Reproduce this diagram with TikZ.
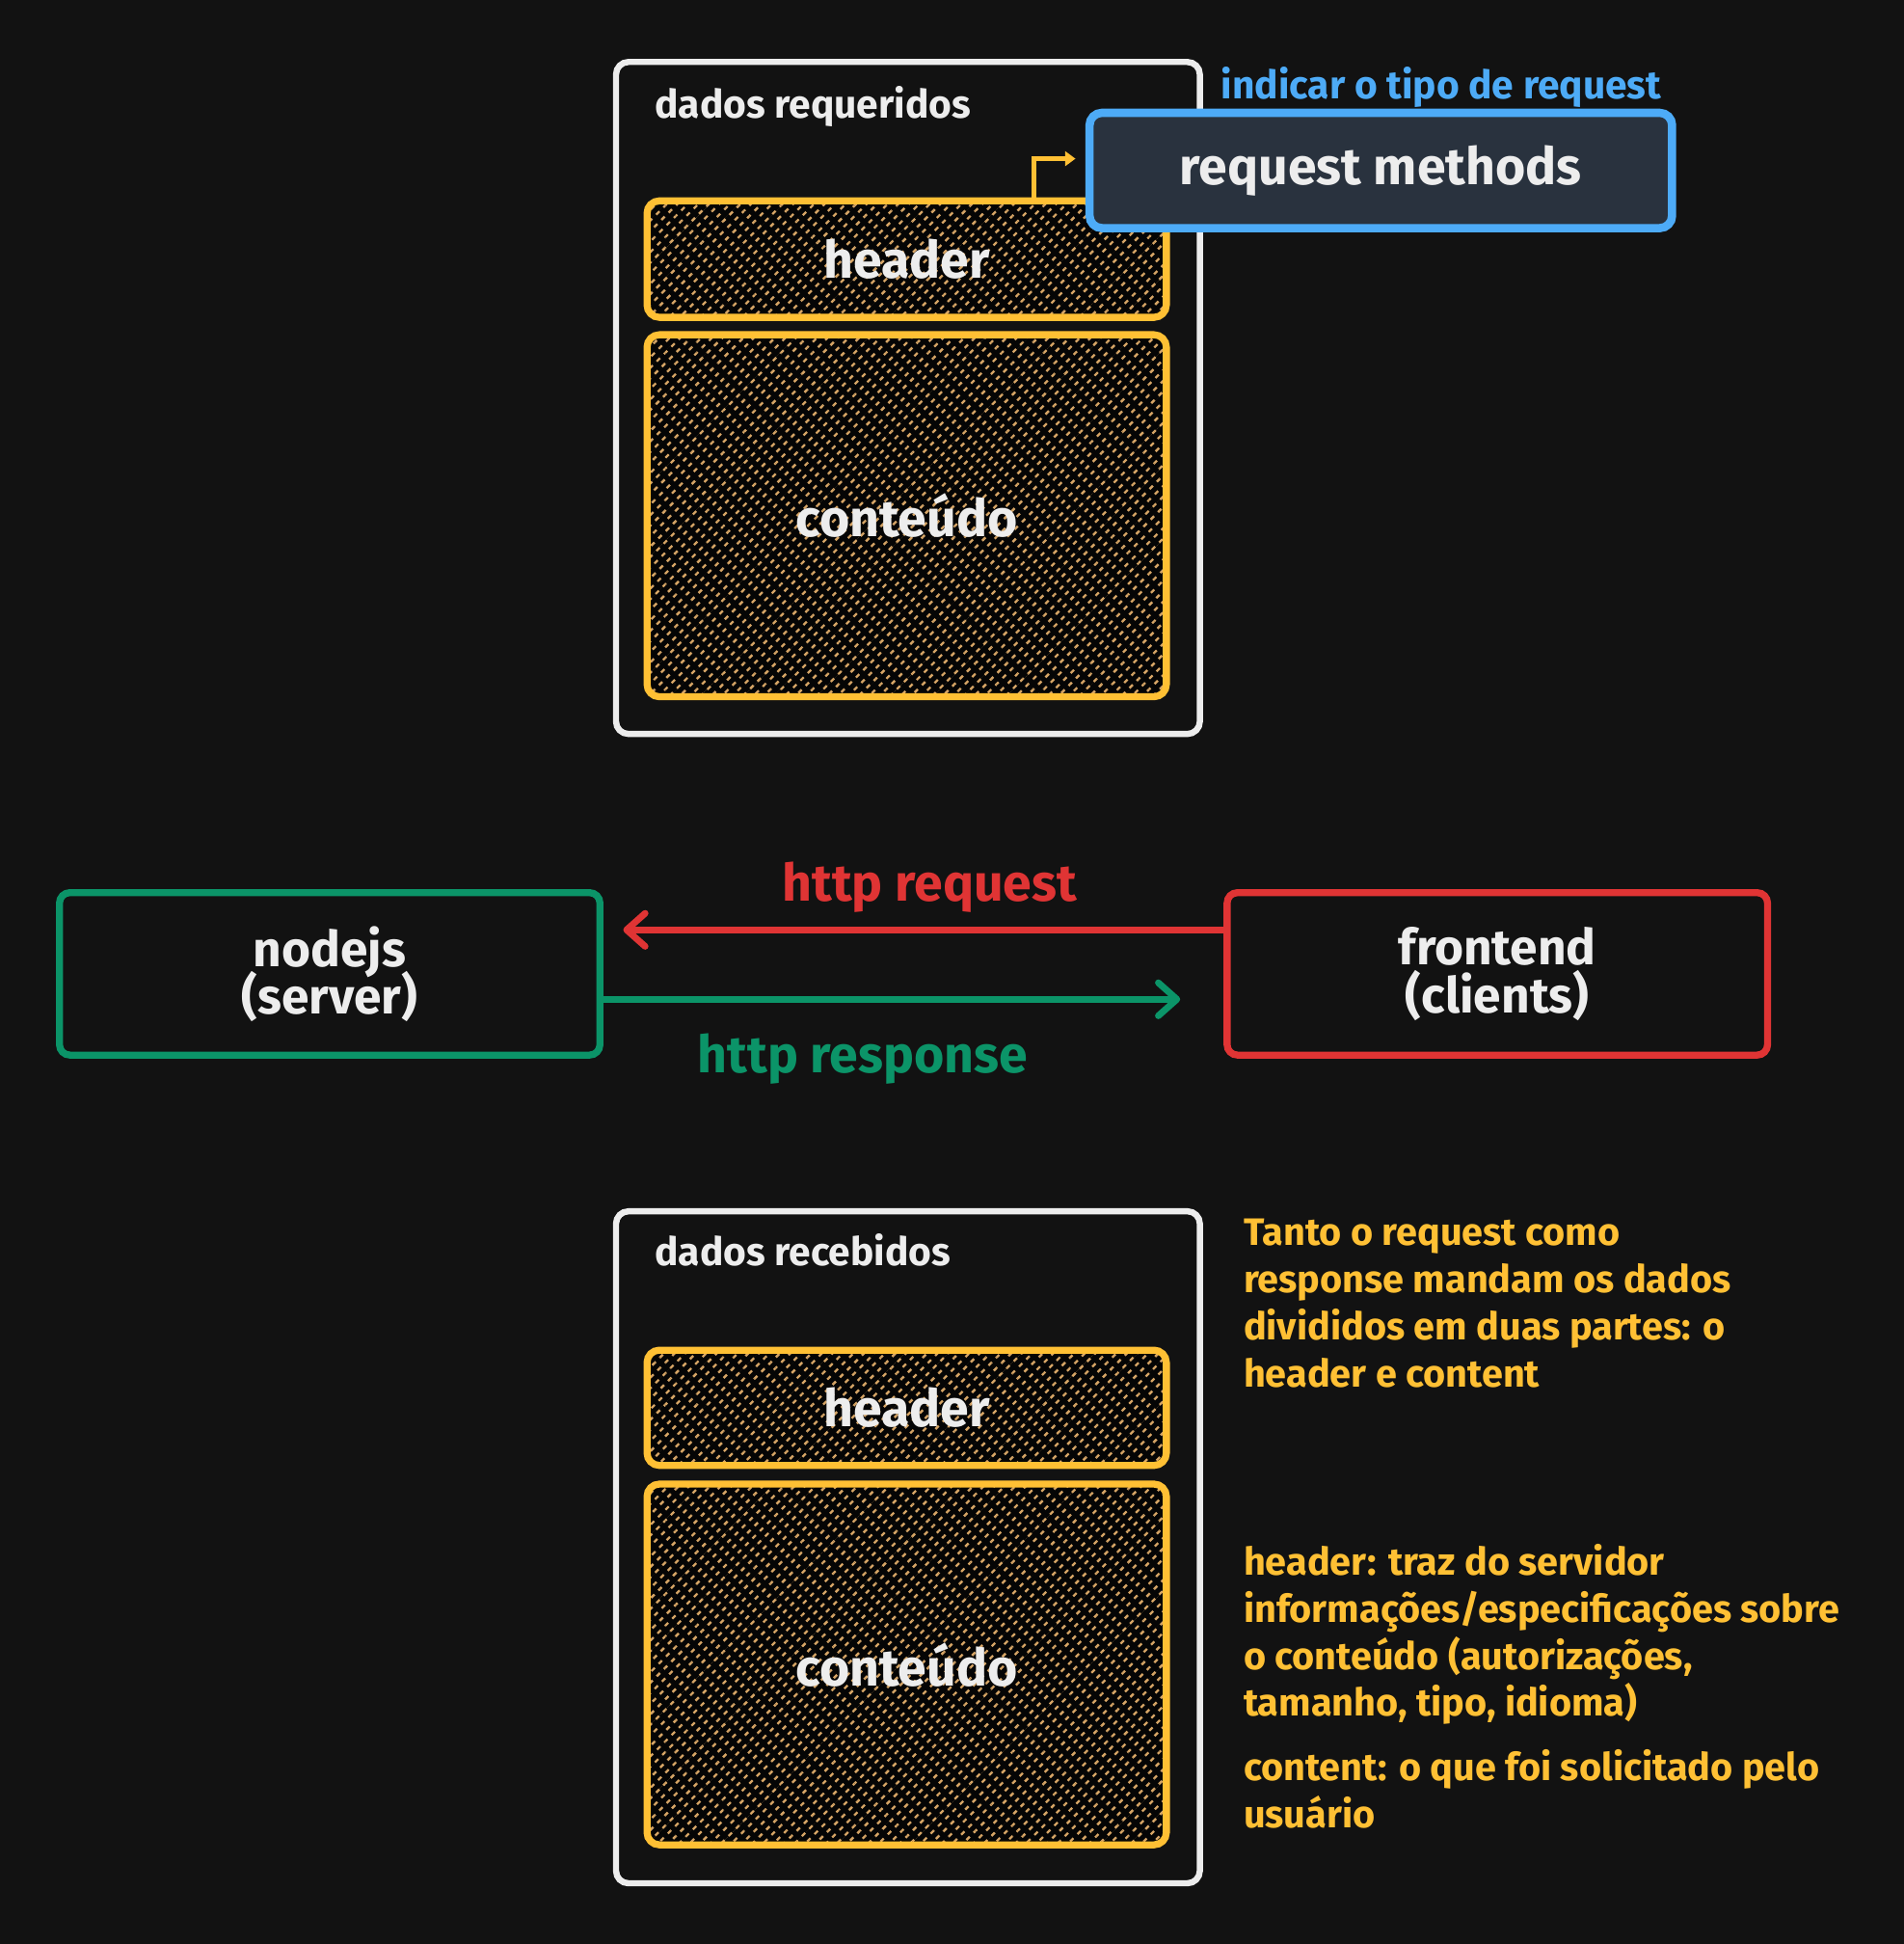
\documentclass[tikz,border=0pt]{standalone}
\usepackage{fontspec}
\setmainfont{Fira Sans}
\usetikzlibrary{arrows.meta,patterns.meta,calc}
\definecolor{bg}{HTML}{121212}
\definecolor{wht}{HTML}{EDEDED}
\definecolor{yel}{HTML}{FFC034}
\definecolor{blu}{HTML}{4DABF7}
\definecolor{slate}{HTML}{29323E}
\definecolor{grn}{HTML}{0B9468}
\definecolor{rd}{HTML}{E03434}
\definecolor{hatchc}{HTML}{D6A566}
\definecolor{hatchbg}{HTML}{050505}
\newcommand\mytightlines{\setlength{\lineskiplimit}{-20pt}\setlength{\lineskip}{0pt}}
\tikzset{
  box/.style={draw, rounded corners=6pt, inner sep=0pt},
  outerbox/.style={box, draw=wht, line width=3pt, minimum width=282.6pt, minimum height=325.2pt},
  hatchbox/.style={box, draw=yel, line width=3.4pt, minimum width=251.4pt,
     preaction={fill=hatchbg},
     preaction={pattern={Lines[angle=45,distance=3.6pt,line width=1.1pt]}, pattern color=hatchc},
     preaction={pattern={Lines[angle=-45,distance=5pt,line width=2.6pt]}, pattern color=hatchbg},
     text=wht, font=\fontsize{25}{28}\selectfont\bfseries},
  endbox/.style={box, line width=3.4pt, rounded corners=5pt, minimum width=261.6pt, minimum height=78.6pt,
     align=center, text=wht, font=\fontsize{24}{23}\selectfont\bfseries\mytightlines},
  small/.style={inner sep=0pt, font=\fontsize{19}{22.8}\selectfont\bfseries},
  big/.style={inner sep=0pt, font=\fontsize{25}{28}\selectfont\bfseries},
  note/.style={inner sep=0pt, anchor=north west, align=left, text=yel, font=\fontsize{18.5}{22.8}\selectfont\bfseries},
  flow/.style={line width=3.2pt, line cap=round, -{Straight Barb[length=9pt,width=16pt,round]}},
}
\begin{document}
\begin{tikzpicture}[x=0.6pt,y=-0.6pt]
\useasboundingbox[fill=bg] (0,0) rectangle (1536,1568);

% top group
\node[outerbox] (outTop) at (732.5,321) {};
\node[small, anchor=base west, text=wht] (lblTop) at (528,95) {dados requeridos};
\node[hatchbox, minimum height=56.4pt] (hdr1) at (731.5,209) {header};
\node[hatchbox, minimum height=175.2pt] (cont1) at (731.5,416) {conteúdo};
\node[box, draw=blu, fill=slate, line width=4pt, minimum width=282pt, minimum height=55.8pt,
      text=wht, font=\fontsize{25}{28}\selectfont\bfseries] (reqm) at (1114,137.5) {request methods};
\node[small, anchor=base west, text=blu] (lblInd) at (985,80) {indicar o tipo de request};
\coordinate (elb) at (834,128);
\draw[yel, line width=2.6pt, -{Triangle[length=5pt,width=7pt]}] (hdr1.north -| elb) -- (elb) -- ($(elb -| reqm.west)+(-8,0)$);

% middle
\node[endbox, draw=grn] (node) at (266,785.5) {nodejs\\(server)};
\node[endbox, draw=rd] (front) at (1208,785.5) {frontend\\(clients)};
\draw[flow, rd] ([yshift=21.3pt]front.west) -- ([yshift=21.3pt,xshift=9.6pt]node.east);
\draw[flow, grn] ([yshift=-12.3pt]node.east) -- ([yshift=-12.3pt,xshift=-21pt]front.west);
\node[big, anchor=base, text=rd] (lblReq) at (750,727) {http request};
\node[big, anchor=base, text=grn] (lblResp) at (696,865) {http response};

% bottom group
\node[outerbox] (outBot) at (732.5,1248) {};
\node[small, anchor=base west, text=wht] (lblBot) at (528,1021) {dados recebidos};
\node[hatchbox, minimum height=55.8pt] (hdr2) at (731.5,1135.5) {header};
\node[hatchbox, minimum height=174.6pt] (cont2) at (731.5,1342.5) {conteúdo};

% notes
\node[note] (note1) at (1003,983) {Tanto o request como\\response mandam os dados\\divididos em duas partes: o\\header e content};
\node[note] (note2) at (1003,1245) {header: traz do servidor\\informações/especificações sobre\\o conteúdo (autorizações,\\tamanho, tipo, idioma)};
\node[note] (note3) at (1003,1411) {content: o que foi solicitado pelo\\usuário};
\end{tikzpicture}
\end{document}
